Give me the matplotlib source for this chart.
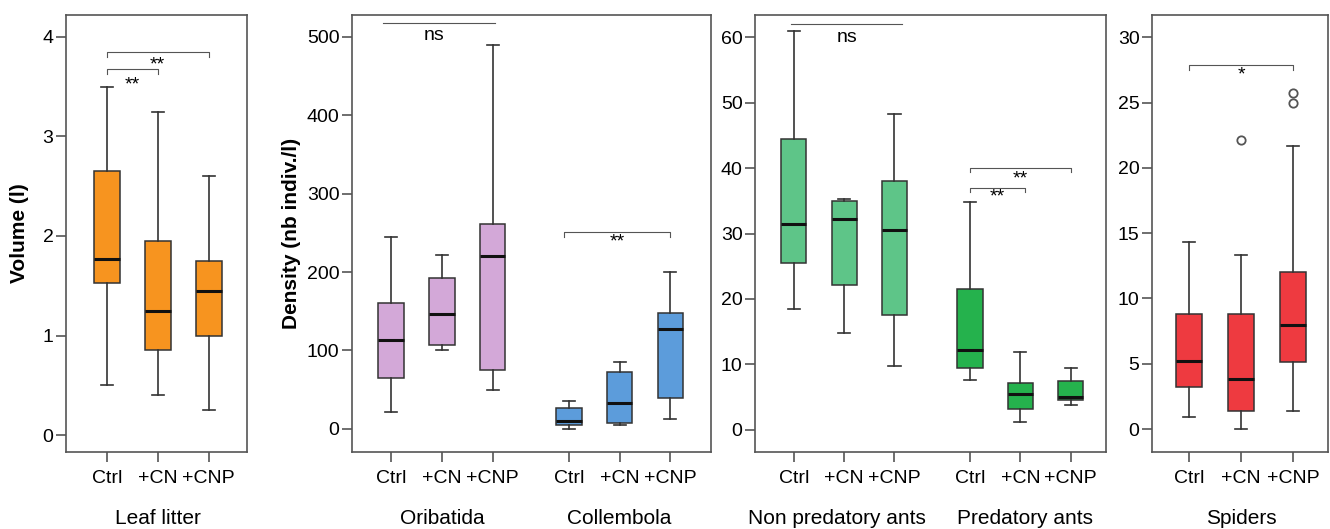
import numpy as np
import matplotlib
matplotlib.use("Agg")
import matplotlib.pyplot as plt
import matplotlib.transforms as mtransforms

plt.rcParams['font.family'] = ['Liberation Sans', 'DejaVu Sans']

treatments = ["Ctrl", "+CN", "+CNP"]

# box stats per group: whisker low, Q1, median, Q3, whisker high
litter_stats = [[0.5, 1.53, 1.77, 2.65, 3.5],
                [0.4, 0.85, 1.25, 1.95, 3.25],
                [0.25, 1.0, 1.45, 1.75, 2.6]]
oribatida_stats = [[22, 65, 113, 160, 245],
                   [100, 107, 147, 192, 222],
                   [50, 75, 220, 262, 490]]
collembola_stats = [[0, 5, 10, 27, 35],
                    [5, 8, 33, 73, 85],
                    [13, 40, 127, 148, 200]]
nonpred_stats = [[18.5, 25.5, 31.5, 44.5, 61],
                 [14.8, 22.2, 32.2, 35.0, 35.2],
                 [9.7, 17.5, 30.5, 38.0, 48.3]]
pred_stats = [[7.6, 9.5, 12.2, 21.5, 34.8],
              [1.2, 3.2, 5.4, 7.1, 11.9],
              [3.8, 4.5, 5.0, 7.5, 9.4]]
spider_stats = [[0.9, 3.2, 5.2, 8.8, 14.3],
                [0.0, 1.4, 3.8, 8.8, 13.3],
                [1.4, 5.1, 8.0, 12.0, 21.7]]
spider_outliers = [[], [22.1], [25.0, 25.7]]

colors = {"litter": "#F7941F", "oribatida": "#D3A8D8", "collembola": "#5C9CDB",
          "nonpred": "#5EC588", "pred": "#25B24D", "spiders": "#EE3A40"}


def make_bxp(stats, outliers=None):
    out = []
    for i, s in enumerate(stats):
        fl = outliers[i] if outliers else []
        out.append(dict(whislo=s[0], q1=s[1], med=s[2], q3=s[3], whishi=s[4], fliers=fl))
    return out


def draw_boxes(ax, stats, positions, color, outliers=None):
    ax.bxp(make_bxp(stats, outliers), positions=positions, widths=0.5,
           patch_artist=True, showfliers=True,
           boxprops=dict(facecolor=color, edgecolor="#333333", linewidth=1.1),
           medianprops=dict(color="#111111", linewidth=2.2),
           whiskerprops=dict(color="#333333", linewidth=1.2),
           capprops=dict(color="#333333", linewidth=1.2),
           capwidths=0.24,
           flierprops=dict(marker="o", markerfacecolor="none", markeredgecolor="#555555",
                           markersize=6, markeredgewidth=1.3))


def bracket(ax, x1, x2, y, tick, text, ty, tx=None, ends=True):
    if ends:
        ax.plot([x1, x1, x2, x2], [y - tick, y, y, y - tick], color="#555555", lw=0.8)
    else:
        ax.plot([x1, x2], [y, y], color="#555555", lw=0.8)
    if tx is None:
        tx = (x1 + x2) / 2
    ax.text(tx, ty, text, ha="center", va="center", fontsize=14)


def style_axes(ax, positions, groups, group_pos):
    for sp in ax.spines.values():
        sp.set_color("#555555")
        sp.set_linewidth(1.2)
    ax.set_xticks(positions)
    ax.set_xticklabels(treatments * len(groups), fontsize=14)
    ax.tick_params(axis="both", direction="out", length=7, width=1.2, color="#555555",
                   labelsize=14)
    ax.tick_params(axis="x", pad=6)
    ax.tick_params(axis="y", pad=2)
    trans = mtransforms.blended_transform_factory(ax.transData, ax.transAxes)
    for g, gp in zip(groups, group_pos):
        ax.text(gp, -0.152, g, ha="center", va="center", fontsize=15, transform=trans)


fig = plt.figure(figsize=(13.30, 5.29), dpi=100)
W, H = 1330, 529


def add_ax(x0, x1):
    return fig.add_axes([x0 / W, 1 - 452 / H, (x1 - x0) / W, (452 - 15) / H])


# Leaf litter
ax1 = add_ax(66, 247)
pos = [0, 1, 2]
draw_boxes(ax1, litter_stats, pos, colors["litter"])
ax1.set_xlim(-0.8, 2.75)
ax1.set_ylim(-0.17, 4.22)
ax1.set_yticks([0, 1, 2, 3, 4])
style_axes(ax1, pos, ["Leaf litter"], [1.0])
ax1.set_ylabel("Volume (l)", fontsize=15, fontweight="bold", labelpad=10)
bracket(ax1, 0, 1, 3.68, 0.05, "**", 3.52, tx=0.5)
bracket(ax1, 0, 2, 3.85, 0.05, "**", 3.72, tx=1.0)

# Oribatida / Collembola
ax2 = add_ax(352, 711)
pos_a = [0, 1, 2]
pos_b = [3.5, 4.5, 5.5]
draw_boxes(ax2, oribatida_stats, pos_a, colors["oribatida"])
draw_boxes(ax2, collembola_stats, pos_b, colors["collembola"])
ax2.set_xlim(-0.77, 6.3)
ax2.set_ylim(-29.5, 528)
ax2.set_yticks([0, 100, 200, 300, 400, 500])
style_axes(ax2, pos_a + pos_b, ["Oribatida", "Collembola"], [1.0, 4.5])
ax2.set_ylabel("Density (nb indiv./l)", fontsize=15, fontweight="bold", labelpad=4)
bracket(ax2, -0.15, 2.05, 518, 0, "ns", 502, tx=0.85, ends=False)
bracket(ax2, 3.4, 5.5, 251, 6, "**", 238, tx=4.45)

# Ants
ax3 = add_ax(755, 1106)
draw_boxes(ax3, nonpred_stats, pos_a, colors["nonpred"])
draw_boxes(ax3, pred_stats, pos_b, colors["pred"])
ax3.set_xlim(-0.77, 6.2)
ax3.set_ylim(-3.4, 63.4)
ax3.set_yticks([0, 10, 20, 30, 40, 50, 60])
style_axes(ax3, pos_a + pos_b, ["Non predatory ants", "Predatory ants"], [0.85, 4.6])
bracket(ax3, -0.05, 2.15, 62, 0, "ns", 60.0, tx=1.05, ends=False)
bracket(ax3, 3.5, 5.5, 40, 0.6, "**", 38.4, tx=4.5)
bracket(ax3, 3.5, 4.6, 37, 0.6, "**", 35.6, tx=4.05)

# Spiders
ax4 = add_ax(1152, 1328)
draw_boxes(ax4, spider_stats, pos, colors["spiders"], spider_outliers)
ax4.set_xlim(-0.71, 2.67)
ax4.set_ylim(-1.76, 31.7)
ax4.set_yticks([0, 5, 10, 15, 20, 25, 30])
style_axes(ax4, pos, ["Spiders"], [1.0])
bracket(ax4, 0, 2, 27.9, 0.4, "*", 27.1)

fig.savefig("out.png", dpi=100)
